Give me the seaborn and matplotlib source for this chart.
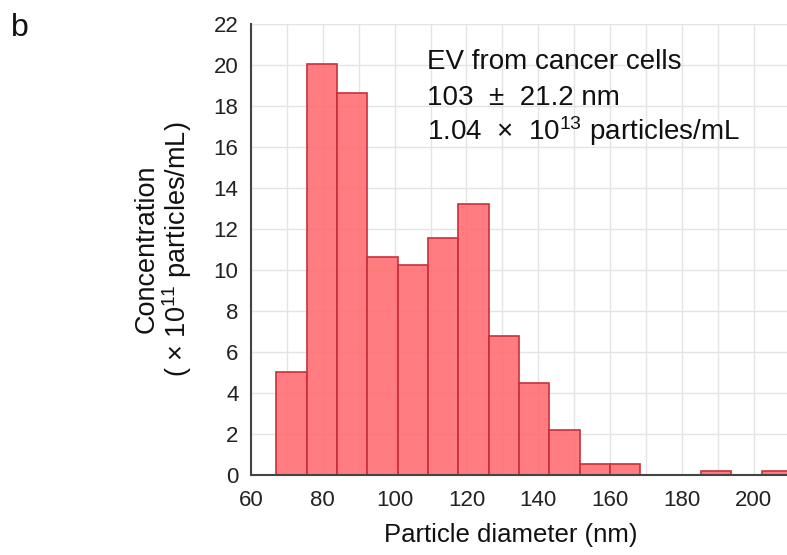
import numpy as np
import pandas as pd
from matplotlib import pyplot as plt
import seaborn as sns

# histogram: bins start at 67 nm, ~8.45 nm wide
bin_start = 67.0
bin_width = 8.45
heights = [5.0, 20.05, 18.62, 10.6, 10.24, 11.53, 13.2, 6.74, 4.46, 2.18,
           0.52, 0.52, 0.0, 0.0, 0.17, 0.0, 0.17]
x_ticks = list(range(60, 210, 10))
x_labels = [str(t) if t % 20 == 0 else "" for t in x_ticks]
y_ticks = list(range(0, 24, 2))
notes = ["EV from cancer cells", "103  ±  21.2 nm",
         "1.04  ×  $\\mathregular{10^{13}}$ particles/mL"]

edges = bin_start + bin_width * np.arange(len(heights) + 1)
centers = (edges[:-1] + edges[1:]) / 2
df = pd.DataFrame({"diameter": centers, "conc": heights})

sns.set_style("white")
plt.rcParams["font.family"] = ["Liberation Sans", "DejaVu Sans"]
plt.rcParams["mathtext.fontset"] = "custom"
plt.rcParams["mathtext.rm"] = "Liberation Sans"

fig = plt.figure(figsize=(7.87, 5.55), dpi=100)
ax = fig.add_axes([0.319, 0.145, 0.681, 0.812])

sns.histplot(data=df, x="diameter", weights="conc", bins=edges.tolist(), ax=ax,
             stat="count", color="#ff6b6e", alpha=0.88,
             edgecolor="#c8303a", linewidth=1.2, zorder=2)
# empty bins should not leave a red line on the axis
for p in ax.patches:
    if p.get_height() <= 0:
        p.set_visible(False)

ax.set_xlim(60, 209.3)
ax.set_ylim(0, 22)
ax.set_xticks(x_ticks)
ax.set_xticklabels(x_labels)
ax.set_yticks(y_ticks)
ax.tick_params(axis="both", labelsize=16, colors="#222222", direction="out",
               length=5, width=1.2, pad=4)
ax.tick_params(axis="x", pad=6)

ax.grid(True, color="#e4e4e4", linewidth=1.0, zorder=0)
ax.set_axisbelow(True)
for side in ["top", "right"]:
    ax.spines[side].set_visible(False)
for side in ["left", "bottom"]:
    ax.spines[side].set_color("#444444")
    ax.spines[side].set_linewidth(1.5)

ax.set_xlabel("Particle diameter (nm)", fontsize=18.5, color="#111111", labelpad=8)
ax.xaxis.set_label_coords(0.485, -0.108)
ax.xaxis.label.set_va("top")
ax.set_ylabel("Concentration\n( × $\\mathregular{10^{11}}$ particles/mL)",
              fontsize=19.5, color="#111111", labelpad=14, linespacing=1.05)

for i, line in enumerate(notes):
    ax.text(0.328, 0.900 - 0.079 * i, line, transform=ax.transAxes,
            fontsize=20, color="#111111", va="baseline")

fig.text(0.014, 0.935, "b", fontsize=23, color="#111111")

fig.savefig("out.png", dpi=100)
